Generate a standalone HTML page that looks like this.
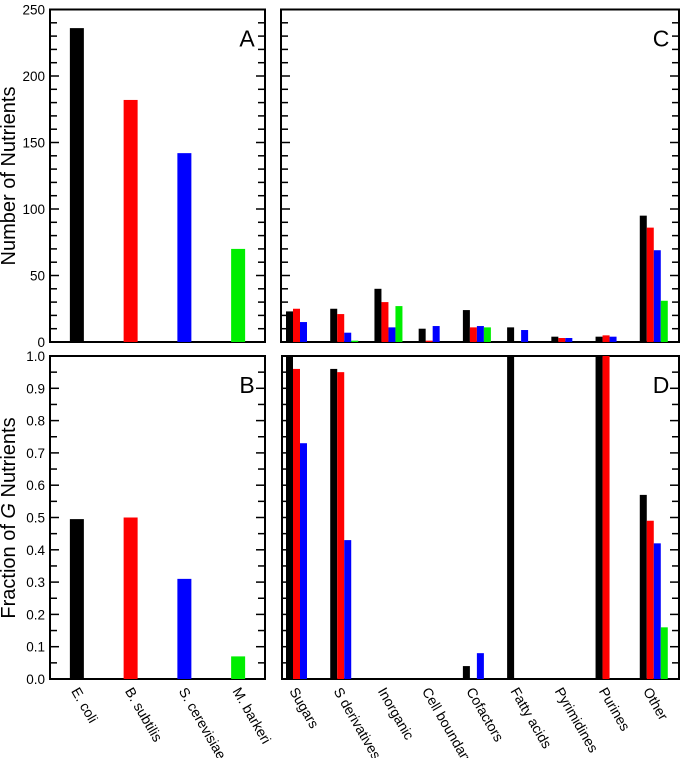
<!DOCTYPE html>
<html><head><meta charset="utf-8"><style>
html,body{margin:0;padding:0;background:#fff}
svg{display:block;font-family:"Liberation Sans",Arial,sans-serif}
</style></head><body>
<svg id="fig" width="685" height="758" viewBox="0 0 685 758" xmlns="http://www.w3.org/2000/svg">
<text x="15" y="176" font-size="20" text-anchor="middle" transform="rotate(-90 15 176)">Number of Nutrients</text>
<text x="15" y="518" font-size="20" text-anchor="middle" transform="rotate(-90 15 518)">Fraction of <tspan font-style="italic">G</tspan> Nutrients</text>
</svg>
<script>
const organisms = ["E. coli","B. subtilis","S. cerevisiae","M. barkeri"];
const colors = ["#000000","#ff0000","#0000ff","#00ee00"];
const countsA = [236,182,142,70];
const fractionB = [0.495,0.5,0.31,0.07];
const classes = ["Sugars","S derivatives","Inorganic","Cell boundary","Cofactors","Fatty acids","Pyrimidines","Purines","Other"];
const countsEcoli = [23,25,40,10,24,11,4,4,95];
const countsBsub = [25,21,30,1,11,0,3,5,86];
const countsScer = [15,7,11,12,12,9,3,4,69];
const countsMbar = [0,1,27,0,11,0,0,0,31];
const fracEcoli = [1.0,0.96,0,0,0.04,1.0,0,1.0,0.57];
const fracBsub = [0.96,0.95,0,0,0,0,0,1.0,0.49];
const fracScer = [0.73,0.43,0,0,0.08,0,0,0,0.42];
const fracMbar = [0,0,0,0,0,0,0,0,0.16];
const ticksTop = [0,50,100,150,200,250];
const ticksBottom = ["0.0","0.1","0.2","0.3","0.4","0.5","0.6","0.7","0.8","0.9","1.0"];

const NS="http://www.w3.org/2000/svg";
const svg=document.getElementById('fig');
function mk(tag,attrs,parent){const e=document.createElementNS(NS,tag);for(const k in attrs)e.setAttribute(k,attrs[k]);(parent||svg).appendChild(e);return e;}

const PA={x0:50,x1:265,y0:9.5,y1:342};
const PC={x0:281,x1:679,y0:9.5,y1:342};
const PB={x0:50,x1:265,y0:356,y1:679};
const PD={x0:282,x1:679,y0:356,y1:679};
function yTop(p,v){return p.y1-(v/250)*(p.y1-p.y0);}
function yBot(p,v){return p.y1-v*(p.y1-p.y0);}

function frame(p,name,letter,major,minorStep,maxV,labels){
  const g=mk('g',{});
  
  
  const r=mk('rect',{x:p.x0,y:p.y0,width:p.x1-p.x0,height:p.y1-p.y0,fill:'none',stroke:'#000','stroke-width':2},g);
  
  
  const n=Math.round(maxV/minorStep);
  for(let i=0;i<=n;i++){
    const v=i*minorStep;
    const y=p.y1-(v/maxV)*(p.y1-p.y0);
    const isMaj=Math.abs(v/major-Math.round(v/major))<1e-6;
    const L=isMaj?9:7;
    const t1=mk('line',{x1:p.x0,x2:p.x0+L,y1:y,y2:y,stroke:'#000','stroke-width':1.5},g);
    
    
    const t2=mk('line',{x1:p.x1,x2:p.x1-L,y1:y,y2:y,stroke:'#000','stroke-width':1.5},g);
    
    
  }
  if(labels){
    labels.forEach((lab,i)=>{
      const v=i*major;
      const y=p.y1-(v/maxV)*(p.y1-p.y0);
      const t=mk('text',{x:p.x0-5,y:y+5,'font-size':13.5,'text-anchor':'end'},g);
      t.textContent=lab;
      
      
    });
  }
  const L=mk('text',{x:p.x1-18,y:p.y0+37,'font-size':23,'text-anchor':'middle'},g);
  L.textContent=letter;
  
  
}
frame(PA,'panel-a','A',50,10,250,ticksTop.map(String));
frame(PC,'panel-c','C',50,10,250,null);
frame(PB,'panel-b','B',0.1,0.05,1.0,ticksBottom);
frame(PD,'panel-d','D',0.1,0.05,1.0,null);

// Panels A & B
const bwA=14, stepA=(PA.x1-PA.x0)/organisms.length;
organisms.forEach((o,i)=>{
  const cx=PA.x0+stepA*(i+0.5);
  let y=yTop(PA,countsA[i]);
  const b=mk('rect',{x:cx-bwA/2,y:y,width:bwA,height:PA.y1-y,fill:colors[i]});
  
  
  y=yBot(PB,fractionB[i]);
  const b2=mk('rect',{x:cx-bwA/2,y:y,width:bwA,height:PB.y1-y,fill:colors[i]});
  
  
  const t=mk('text',{x:cx-6,y:PB.y1+12,'font-size':14,transform:`rotate(60 ${cx-6} ${PB.y1+12})`});
  t.textContent=o;
  
  
});

// Panels C & D
const countSeries=[countsEcoli,countsBsub,countsScer,countsMbar];
const fracSeries=[fracEcoli,fracBsub,fracScer,fracMbar];
const stepC=(PC.x1-PC.x0)/classes.length, bw=7;
classes.forEach((c,i)=>{
  const gx=PC.x0+5+stepC*i;
  for(let s=0;s<4;s++){
    const x=gx+s*bw;
    const v=countSeries[s][i];
    if(v>0){
      const y=yTop(PC,v);
      const b=mk('rect',{x:x,y:y,width:bw,height:PC.y1-y,fill:colors[s]});
      
      
    }
    const f=fracSeries[s][i];
    if(f>0){
      const y=yBot(PD,f);
      const b=mk('rect',{x:x,y:y,width:bw,height:PD.y1-y,fill:colors[s]});
      
      
    }
  }
  const lx=gx+3, ly=PD.y1+12;
  const t=mk('text',{x:lx,y:ly,'font-size':14,transform:`rotate(60 ${lx} ${ly})`});
  t.textContent=c;
  
  
});
</script>
</body></html>
